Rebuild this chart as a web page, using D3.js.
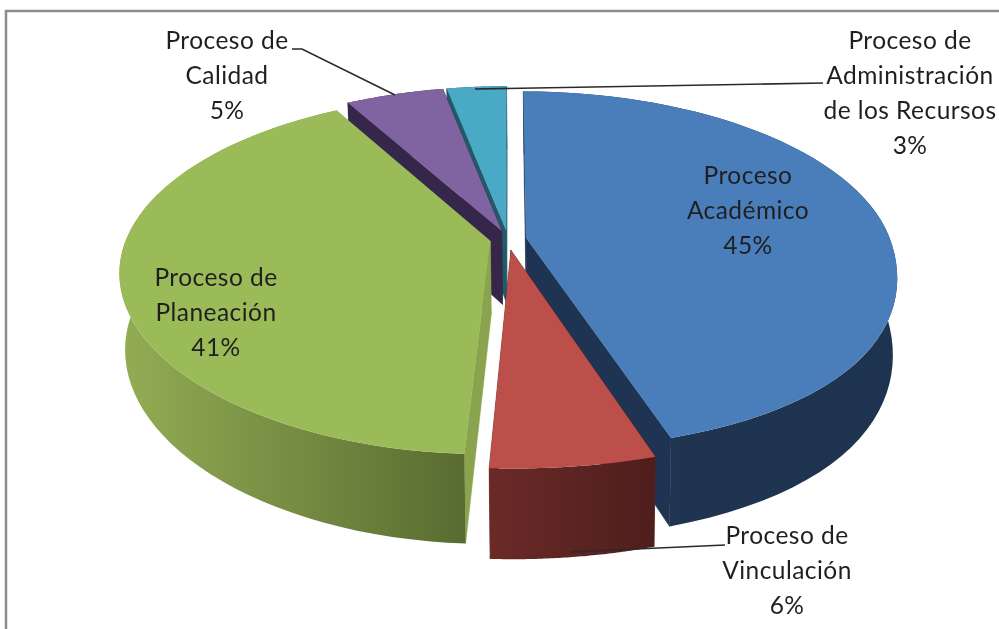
<!DOCTYPE html>
<html><head><meta charset="utf-8">
<script src="https://cdn.jsdelivr.net/npm/d3@7/dist/d3.min.js"></script>
<style>html,body{margin:0;padding:0;background:#fff;overflow:hidden}svg{display:block}</style>
</head><body>
<script>
// ---- data, in the chart's drawing order (clockwise from 12 o'clock)
const categories = ["Proceso Académico","Proceso de Vinculación","Proceso de Planeación","Proceso de Calidad","Proceso de Administración de los Recursos"];
const values = [45.3, 5.5, 41, 5.1, 3.1];
const explode = [0.05, 0.065, 0.05, 0.05, 0.05];
const labelLines = [["Proceso","Académico"],["Proceso de","Vinculación"],["Proceso de","Planeación"],["Proceso de","Calidad"],["Proceso de","Administración","de los Recursos"]];

// ---- styling and layout
const topColors = ["#4a7ebb","#bd4f4b","#9bbb59","#8064a2","#4aa9c4"];
const wallColors = ["#1e3452","#5a2321","#8aa34f","#35264a","#215b6a"];
const rimStops = [["#1f3552","#1e3350"],["#6b2a28","#4e1e1c"],["#93ad54","#586c31"],["#35264a","#35264a"],["#215b6a","#215b6a"]];
const labelPos = [[748,184],[787,544],[216,286],[227,49],[910,49]];
const leaders = [null,[[570,552],[725,545]],null,[[292,49],[302,49],[395,95]],[[475,89],[823,83]]];
const W=999,H=629,cx=508,cy=239,R=364,Ry=172,k=0.173,D=74,vx=560,conv=0.987;

const svg=d3.select("body").append("svg").attr("width",W).attr("height",H).style("filter","blur(0.5px)");
const defs=svg.append("defs");

svg.append("rect").attr("x",6).attr("y",11).attr("width",W+20).attr("height",H+20)
   .attr("fill","#fff").attr("stroke","#8c8c8c").attr("stroke-width",2.5);

const pie=d3.pie().sort(null).value(d=>d);
const arcs=pie(values);
const line=d3.line();

function project(X,Y){
  const s=1/(1+k*Y), f=Y<0?Y*Y:0, fx=X>0?f:0;
  return {x:cx+R*X*s*(1+0.11*fx),y:cy-Ry*Y*s*(1+0.02*f),s};
}
const topPt=(X,Y)=>{const p=project(X,Y);return [p.x,p.y];};
const botPt=(X,Y)=>{const p=project(X,Y);return [vx+(p.x-vx)*conv,p.y+D*p.s];};

const order=[4,3,0,2,1]; // back to front
order.forEach(i=>{
  const a=arcs[i], mid=(a.startAngle+a.endAngle)/2;
  const ox=explode[i]*Math.sin(mid), oy=explode[i]*Math.cos(mid);
  const angles=d3.range(0,61).map(t=>a.startAngle+(a.endAngle-a.startAngle)*t/60);
  const rimT=angles.map(t=>topPt(ox+Math.sin(t),oy+Math.cos(t)));
  const rimB=angles.map(t=>botPt(ox+Math.sin(t),oy+Math.cos(t)));
  const apexT=topPt(ox,oy), apexB=botPt(ox,oy);
  const g=svg.append("g").attr("class","slice").attr("data-name",categories[i]);

  // radial walls
  [[0],[60]].forEach(([n])=>{
    g.append("path").attr("fill",wallColors[i]).attr("stroke",wallColors[i]).attr("stroke-width",0.5)
     .attr("d",line([apexT,rimT[n],rimB[n],apexB])+"Z");
  });
  // outer wall
  const xs=rimT.map(p=>p[0]);
  const id="rim"+i;
  const gr=defs.append("linearGradient").attr("id",id).attr("gradientUnits","userSpaceOnUse")
    .attr("x1",d3.min(xs)).attr("x2",d3.max(xs)).attr("y1",0).attr("y2",0);
  gr.append("stop").attr("offset",0).attr("stop-color",rimStops[i][0]);
  gr.append("stop").attr("offset",1).attr("stop-color",rimStops[i][1]);
  g.append("path").attr("fill",`url(#${id})`)
   .attr("d",line(rimT.concat(rimB.slice().reverse()))+"Z");
  // top face
  g.append("path").attr("fill",topColors[i])
   .attr("d",line([apexT].concat(rimT))+"Z");
});

// leader lines
leaders.forEach(pts=>{ if(!pts) return;
  svg.append("path").attr("d",line(pts)).attr("fill","none").attr("stroke","#2a2a2a").attr("stroke-width",1.6);
});

// labels
const font=`Lato, "Open Sans", sans-serif`;
categories.forEach((c,i)=>{
  const lines=labelLines[i].concat([Math.round(values[i])+"%"]);
  const t=svg.append("text").attr("text-anchor","middle")
    .attr("font-family",font).attr("font-size",24.5).attr("letter-spacing",0.45).attr("fill","#1f1f1f");
  lines.forEach((l,j)=>t.append("tspan").attr("x",labelPos[i][0]).attr("y",labelPos[i][1]+j*35).text(l));
});
</script>
</body></html>
